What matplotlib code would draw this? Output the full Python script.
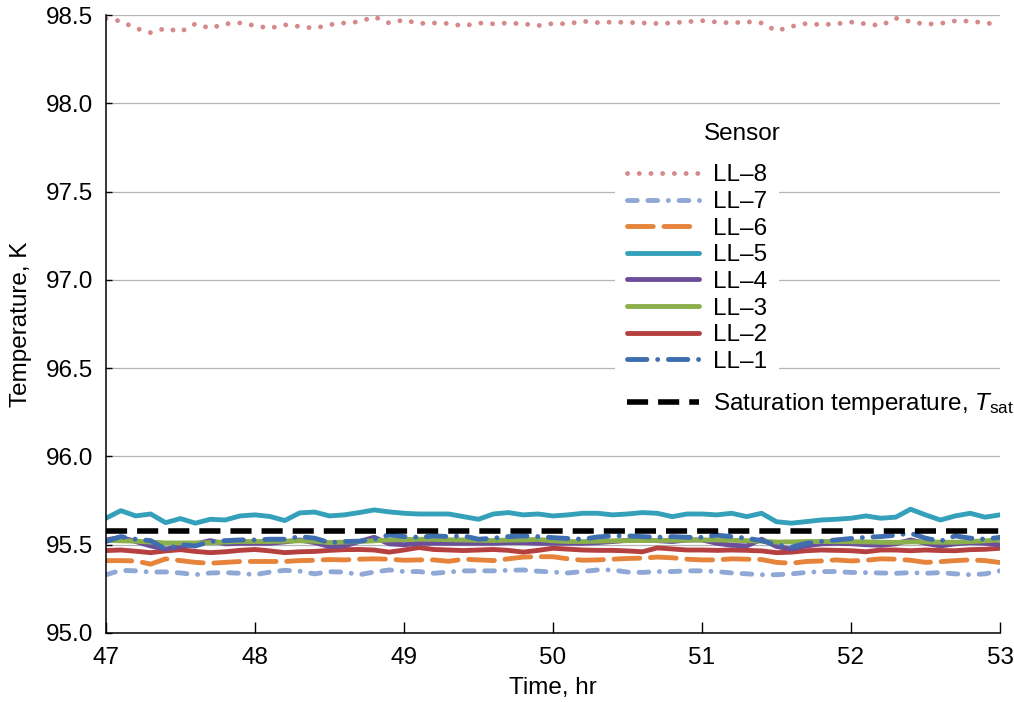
import numpy as np
import matplotlib
matplotlib.use("Agg")
import matplotlib.pyplot as plt

plt.rcParams['font.family'] = ['Liberation Sans', 'DejaVu Sans']
plt.rcParams['font.size'] = 17.5
plt.rcParams['mathtext.fontset'] = 'custom'
plt.rcParams['mathtext.it'] = 'Liberation Sans:italic'
plt.rcParams['mathtext.rm'] = 'Liberation Sans'

# sample times, every 0.1 hr from 47 to 53
time_hr = np.linspace(47.0, 53.0, 61)

t_sat = 95.58

ll8 = [98.480, 98.465, 98.425, 98.400, 98.425, 98.405, 98.450, 98.425, 98.450, 98.455,
       98.440, 98.425, 98.445, 98.435, 98.425, 98.445, 98.455, 98.462, 98.490, 98.455,
       98.472, 98.452, 98.455, 98.452, 98.438, 98.455, 98.450, 98.455, 98.450, 98.440,
       98.452, 98.450, 98.465, 98.457, 98.460, 98.458, 98.455, 98.452, 98.455, 98.462,
       98.468, 98.460, 98.455, 98.462, 98.455, 98.410, 98.435, 98.452, 98.445, 98.450,
       98.460, 98.450, 98.440, 98.482, 98.462, 98.448, 98.452, 98.467, 98.465, 98.455,
       98.447]

ll7 = [95.330, 95.355, 95.352, 95.345, 95.346, 95.340, 95.330, 95.340, 95.342, 95.338,
       95.330, 95.345, 95.355, 95.350, 95.335, 95.347, 95.345, 95.330, 95.345, 95.357,
       95.348, 95.348, 95.338, 95.345, 95.352, 95.352, 95.352, 95.355, 95.357, 95.350,
       95.345, 95.340, 95.348, 95.357, 95.357, 95.345, 95.343, 95.348, 95.348, 95.352,
       95.352, 95.348, 95.340, 95.335, 95.330, 95.330, 95.335, 95.343, 95.348, 95.348,
       95.343, 95.342, 95.340, 95.338, 95.342, 95.338, 95.342, 95.335, 95.330, 95.335,
       95.352]

ll6 = [95.410, 95.410, 95.408, 95.390, 95.420, 95.410, 95.400, 95.395, 95.400, 95.405,
       95.405, 95.405, 95.405, 95.410, 95.412, 95.416, 95.414, 95.418, 95.420, 95.418,
       95.412, 95.414, 95.414, 95.406, 95.418, 95.414, 95.410, 95.420, 95.430, 95.432,
       95.432, 95.420, 95.412, 95.414, 95.418, 95.422, 95.424, 95.430, 95.426, 95.418,
       95.414, 95.414, 95.420, 95.418, 95.416, 95.400, 95.395, 95.405, 95.408, 95.414,
       95.408, 95.412, 95.420, 95.418, 95.412, 95.400, 95.404, 95.410, 95.414, 95.410,
       95.399]

ll5 = [95.650, 95.693, 95.663, 95.674, 95.625, 95.648, 95.622, 95.644, 95.640, 95.663,
       95.669, 95.660, 95.637, 95.680, 95.685, 95.663, 95.669, 95.682, 95.697, 95.686,
       95.678, 95.674, 95.674, 95.674, 95.659, 95.644, 95.674, 95.682, 95.669, 95.674,
       95.663, 95.669, 95.678, 95.678, 95.669, 95.674, 95.682, 95.678, 95.659, 95.674,
       95.674, 95.669, 95.678, 95.659, 95.678, 95.630, 95.622, 95.631, 95.640, 95.644,
       95.650, 95.663, 95.650, 95.656, 95.701, 95.669, 95.640, 95.663, 95.678, 95.656,
       95.669]

ll4 = [95.527, 95.542, 95.518, 95.493, 95.475, 95.490, 95.505, 95.523, 95.505, 95.508,
       95.508, 95.508, 95.516, 95.527, 95.512, 95.490, 95.493, 95.518, 95.542, 95.505,
       95.500, 95.508, 95.508, 95.508, 95.508, 95.508, 95.508, 95.512, 95.512, 95.508,
       95.508, 95.508, 95.508, 95.512, 95.518, 95.525, 95.527, 95.523, 95.518, 95.527,
       95.527, 95.508, 95.497, 95.493, 95.531, 95.490, 95.475, 95.493, 95.505, 95.508,
       95.506, 95.500, 95.497, 95.505, 95.527, 95.508, 95.493, 95.505, 95.512, 95.508,
       95.499]

ll3 = [95.525, 95.522, 95.520, 95.515, 95.510, 95.510, 95.510, 95.512, 95.515, 95.518,
       95.518, 95.518, 95.520, 95.522, 95.520, 95.512, 95.515, 95.518, 95.522, 95.527,
       95.529, 95.531, 95.530, 95.528, 95.527, 95.525, 95.524, 95.526, 95.527, 95.530,
       95.522, 95.518, 95.518, 95.520, 95.522, 95.523, 95.524, 95.524, 95.525, 95.526,
       95.527, 95.527, 95.525, 95.523, 95.520, 95.515, 95.516, 95.518, 95.518, 95.518,
       95.517, 95.516, 95.514, 95.513, 95.516, 95.516, 95.514, 95.514, 95.518, 95.522,
       95.527]

ll2 = [95.467, 95.470, 95.463, 95.455, 95.465, 95.472, 95.462, 95.455, 95.460, 95.468,
       95.473, 95.465, 95.455, 95.460, 95.462, 95.468, 95.472, 95.473, 95.470, 95.458,
       95.470, 95.484, 95.473, 95.470, 95.467, 95.470, 95.473, 95.468, 95.458, 95.468,
       95.480, 95.475, 95.470, 95.468, 95.468, 95.465, 95.460, 95.482, 95.476, 95.470,
       95.470, 95.468, 95.470, 95.468, 95.465, 95.455, 95.458, 95.466, 95.470, 95.468,
       95.466, 95.460, 95.470, 95.470, 95.466, 95.470, 95.467, 95.466, 95.472, 95.474,
       95.480]

ll1 = [95.518, 95.546, 95.531, 95.523, 95.475, 95.500, 95.493, 95.518, 95.523, 95.527,
       95.527, 95.531, 95.531, 95.546, 95.537, 95.512, 95.518, 95.520, 95.531, 95.556,
       95.546, 95.542, 95.550, 95.546, 95.550, 95.531, 95.537, 95.546, 95.550, 95.546,
       95.540, 95.535, 95.531, 95.544, 95.550, 95.550, 95.546, 95.542, 95.546, 95.542,
       95.542, 95.554, 95.546, 95.537, 95.523, 95.499, 95.486, 95.508, 95.518, 95.527,
       95.535, 95.542, 95.546, 95.554, 95.565, 95.537, 95.520, 95.550, 95.537, 95.531,
       95.542]

fig = plt.figure(figsize=(10.14, 7.02), dpi=100)
ax = fig.add_axes([0.1045, 0.0983, 0.8817, 0.8803])

lw = 3.5
ln8, = ax.plot(time_hr, ll8, color='#d5898a', lw=lw, ls=(0, (0.01, 2.4)),
               dash_capstyle='round', label='LL\u20138')
ln7, = ax.plot(time_hr, ll7, color='#8fa8d6', lw=lw,
               ls=(0, (2.0, 2.2, 2.0, 2.2, 0.01, 2.2)),
               dash_capstyle='round', label='LL\u20137')
ln6, = ax.plot(time_hr, ll6, color='#e6843b', lw=lw, ls=(0, (5.3, 2.2)),
               dash_capstyle='round', label='LL\u20136')
ln5, = ax.plot(time_hr, ll5, color='#35a0b9', lw=lw, solid_capstyle='round',
               solid_joinstyle='round', label='LL\u20135')
ln2, = ax.plot(time_hr, ll2, color='#b5403f', lw=lw, solid_capstyle='round',
               solid_joinstyle='round', label='LL\u20132')
ln4, = ax.plot(time_hr, ll4, color='#6c4e9b', lw=lw, solid_capstyle='round',
               solid_joinstyle='round', label='LL\u20134')
ln3, = ax.plot(time_hr, ll3, color='#8bb04b', lw=lw, solid_capstyle='round',
               solid_joinstyle='round', label='LL\u20133')
ln1, = ax.plot(time_hr, ll1, color='#3e6eb0', lw=lw,
               ls=(0, (4.0, 2.2, 0.01, 2.2)),
               dash_capstyle='round', label='LL\u20131')
lsat = ax.axhline(t_sat, color='black', lw=4, ls=(0, (3.8, 1.8)),
                  dash_capstyle='butt',
                  label='Saturation temperature, $T_{\\mathrm{sat}}$')

ax.set_xlim(47, 53)
ax.set_ylim(95.0, 98.5)
ax.set_xticks(np.arange(47, 54, 1))
ax.set_yticks(np.arange(95.0, 98.51, 0.5))
ax.yaxis.set_major_formatter(matplotlib.ticker.FormatStrFormatter('%.1f'))
ax.grid(axis='y', color='#b5b5b5', lw=0.9)
ax.set_axisbelow(True)
for s in ['top', 'right']:
    ax.spines[s].set_visible(False)
for s in ['left', 'bottom']:
    ax.spines[s].set_linewidth(1.1)
ax.tick_params(axis='x', direction='in', length=8, width=1, pad=10)
ax.tick_params(axis='y', direction='in', length=4, width=1, pad=9)
ax.set_xlabel('Time, hr', labelpad=6)
ax.set_ylabel('Temperature, K', labelpad=10)

sensor_leg = ax.legend(handles=[ln8, ln7, ln6, ln5, ln4, ln3, ln2, ln1],
                       loc='upper left', bbox_to_anchor=(0.569, 0.778),
                       borderaxespad=0, borderpad=0.5, labelspacing=0.19,
                       handlelength=2.95, handletextpad=0.58,
                       frameon=True, fancybox=False, framealpha=1,
                       edgecolor='none', facecolor='white')
ax.add_artist(sensor_leg)
ax.legend(handles=[lsat], loc='upper left', bbox_to_anchor=(0.569, 0.411),
          borderaxespad=0, borderpad=0.5, handlelength=2.95,
          handletextpad=0.58, frameon=False)
ax.text(0.669, 0.808, 'Sensor', transform=ax.transAxes, ha='left',
        va='center')

fig.savefig('out.png', dpi=100)
